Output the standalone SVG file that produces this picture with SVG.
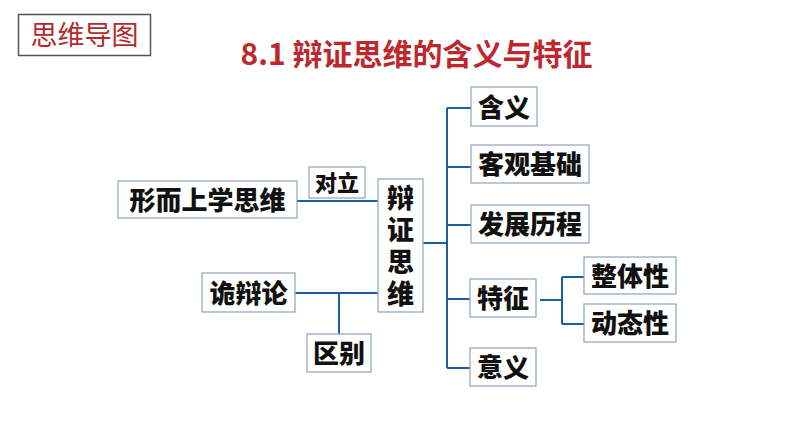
<svg xmlns="http://www.w3.org/2000/svg" width="794" height="447" viewBox="0 0 794 447">
<style>
.box{fill:#fff;stroke:#8aa4c0;stroke-width:1.2}
.t{font-family:"Noto Sans CJK SC","Liberation Sans",sans-serif;font-weight:900;font-size:26px;fill:#111;text-anchor:middle}
.c{fill:none;stroke:#1f5e9e;stroke-width:2}
</style>
<rect width="794" height="447" fill="#fff"/>
<g id="header">
<rect x="18.5" y="14.5" width="132" height="41" fill="#fff" stroke="#555" stroke-width="1.5"/>
<text x="84.5" y="45" font-family="'Noto Sans CJK SC',sans-serif" font-size="27" fill="#b22a2a" text-anchor="middle">思维导图</text>
</g>
<g id="title">
<text x="416.5" y="65" font-family="'Noto Sans CJK SC','Liberation Sans',sans-serif" font-weight="700" font-size="30" fill="#be282d" text-anchor="middle">8.1 辩证思维的含义与特征</text>
</g>
<g id="connectors">
<path class="c" d="M297 201H378"/>
<path class="c" d="M295 293H378M339 293V334"/>
<path class="c" d="M423 243H447M447 108V368M447 108H471M447 167H471M447 225H471M447 299H470M447 368H470"/>
<path class="c" d="M540 300H562M562 277V324M562 277H584M562 324H584"/>
</g>
<g id="n-xing"><rect class="box" x="118" y="181" width="179" height="37"/><text class="t" x="207.5" y="209.5">形而上学思维</text></g>
<g id="n-duili"><rect class="box" x="309" y="167" width="56" height="31"/><text class="t" x="337" y="191" style="font-size:22px">对立</text></g>
<g id="n-bianzheng"><rect class="box" x="378" y="179" width="45" height="133"/>
<text class="t" x="400.5" y="248" style="font-size:27px;writing-mode:vertical-rl;letter-spacing:5px">辩证思维</text></g>
<g id="n-guibian"><rect class="box" x="202" y="273" width="93" height="39"/><text class="t" x="248.5" y="302.5">诡辩论</text></g>
<g id="n-qubie"><rect class="box" x="307" y="334" width="64" height="38"/><text class="t" x="339" y="363">区别</text></g>
<g id="n-hanyi"><rect class="box" x="471" y="87" width="66" height="39"/><text class="t" x="504" y="116.5">含义</text></g>
<g id="n-keguan"><rect class="box" x="471" y="145" width="118" height="38"/><text class="t" x="530" y="174">客观基础</text></g>
<g id="n-fazhan"><rect class="box" x="471" y="205" width="118" height="38"/><text class="t" x="530" y="234">发展历程</text></g>
<g id="n-tezheng"><rect class="box" x="470" y="279" width="66" height="38"/><text class="t" x="503" y="308">特征</text></g>
<g id="n-zhengti"><rect class="box" x="584" y="257" width="92" height="37"/><text class="t" x="630" y="285.5">整体性</text></g>
<g id="n-dongtai"><rect class="box" x="584" y="304" width="92" height="38"/><text class="t" x="630" y="333">动态性</text></g>
<g id="n-yiyi"><rect class="box" x="470" y="348" width="66" height="38"/><text class="t" x="503" y="377">意义</text></g>
</svg>
